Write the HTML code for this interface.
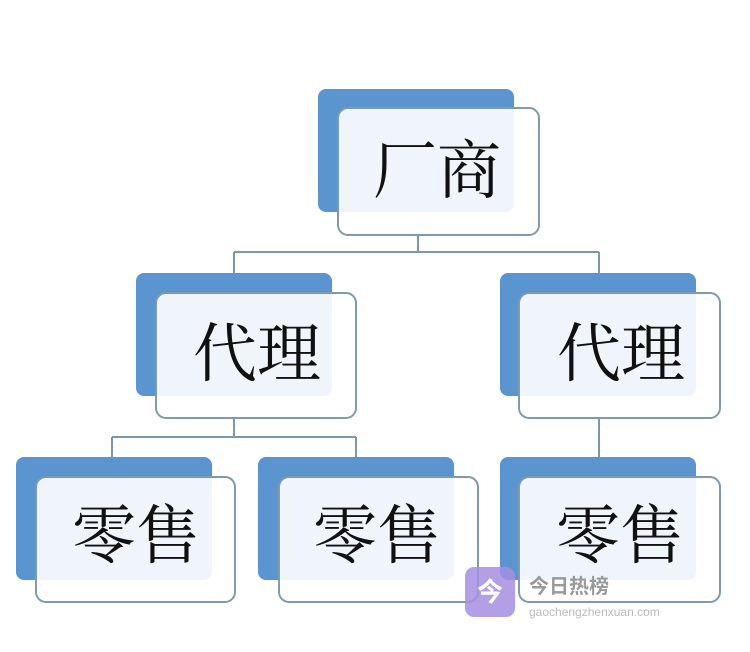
<!DOCTYPE html>
<html><head><meta charset="utf-8"><style>
html,body{margin:0;padding:0;background:#fff;}
svg{display:block}
text{font-family:"Liberation Serif","Noto Serif CJK SC",serif;}
</style></head><body>
<svg width="750" height="652" viewBox="0 0 750 652" xmlns="http://www.w3.org/2000/svg">
<g stroke="#7a98ad" stroke-width="2" fill="none">
<path d="M418 235V252M234 252H599M234 252V273M599 252V273"/>
<path d="M234 418V437M112 437H356M112 437V457M356 437V457"/>
<path d="M599 418V457"/>
</g>
<g>
<rect x="318" y="89" width="196" height="123" rx="8" fill="#5b95cf"/>
<rect x="338" y="108" width="201" height="127" rx="10" fill="rgba(255,255,255,0.9)" stroke="#7c9ab0" stroke-width="2"/>
<rect x="136" y="273" width="196" height="123" rx="8" fill="#5b95cf"/>
<rect x="156" y="293" width="200" height="125" rx="10" fill="rgba(255,255,255,0.9)" stroke="#7c9ab0" stroke-width="2"/>
<rect x="500" y="273" width="196" height="123" rx="8" fill="#5b95cf"/>
<rect x="519" y="293" width="201" height="125" rx="10" fill="rgba(255,255,255,0.9)" stroke="#7c9ab0" stroke-width="2"/>
<rect x="16" y="457" width="196" height="123" rx="8" fill="#5b95cf"/>
<rect x="36" y="477" width="199" height="125" rx="10" fill="rgba(255,255,255,0.9)" stroke="#7c9ab0" stroke-width="2"/>
<rect x="258" y="457" width="196" height="123" rx="8" fill="#5b95cf"/>
<rect x="279" y="477" width="199" height="125" rx="10" fill="rgba(255,255,255,0.9)" stroke="#7c9ab0" stroke-width="2"/>
<rect x="500" y="457" width="196" height="123" rx="8" fill="#5b95cf"/>
<rect x="519" y="477" width="201" height="125" rx="10" fill="rgba(255,255,255,0.9)" stroke="#7c9ab0" stroke-width="2"/>
</g>
<g font-size="64" fill="#111" text-anchor="middle">
<text x="437" y="193">厂商</text>
<text x="257" y="376">代理</text>
<text x="621" y="376">代理</text>
<text x="136" y="558">零售</text>
<text x="377" y="558">零售</text>
<text x="620" y="558">零售</text>
</g>
<rect x="465" y="567" width="50" height="50" rx="9" fill="#a58ee0" opacity="0.85"/>
<text x="490" y="601" font-size="26" fill="#fff" text-anchor="middle" font-weight="bold" style="font-family:'Liberation Sans','Noto Sans CJK SC',sans-serif">今</text>
<text x="529" y="593" font-size="20" fill="#999" font-weight="bold" style="font-family:'Liberation Sans','Noto Sans CJK SC',sans-serif">今日热榜</text>
<text x="529" y="616" font-size="12" fill="#bbb" style="font-family:'Liberation Sans',sans-serif">gaochengzhenxuan.com</text>
</svg>
</body></html>
